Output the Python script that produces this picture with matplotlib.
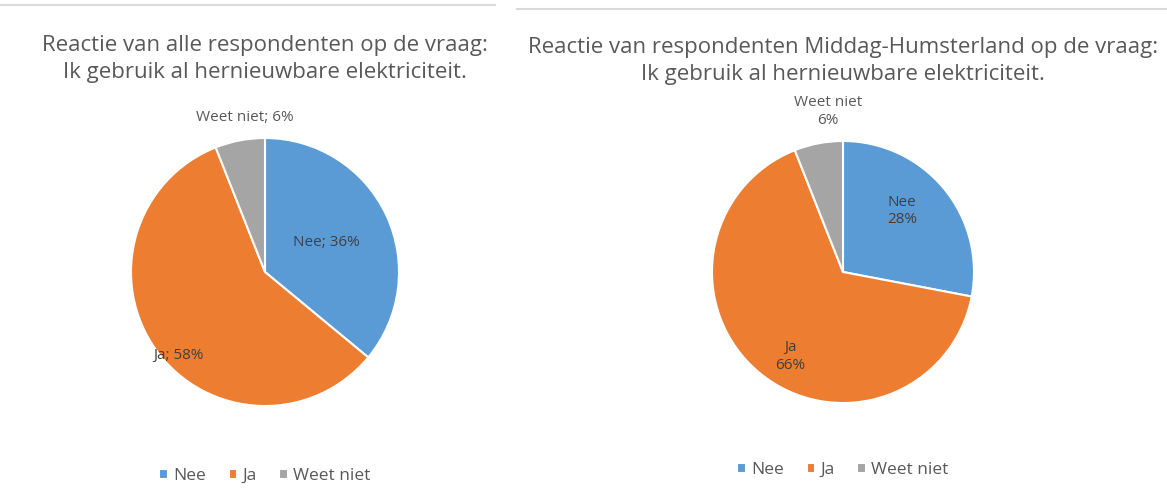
import numpy as np
import matplotlib
matplotlib.use("Agg")
import matplotlib.pyplot as plt
from matplotlib.lines import Line2D

plt.rcParams['font.family'] = ['Open Sans', 'DejaVu Sans']

categories = ["Nee", "Ja", "Weet niet"]
alle_values = [36, 58, 6]
middag_values = [28, 66, 6]
title_alle = "Reactie van alle respondenten op de vraag:\nIk gebruik al hernieuwbare elektriciteit."
title_middag = "Reactie van respondenten Middag-Humsterland op de vraag:\nIk gebruik al hernieuwbare elektriciteit."

colors = ["#5B9BD5", "#ED7D31", "#A5A5A5"]
W, H = 1167, 503


def draw_panel(rect, values, title, title_y, lab_dist, lab_shift, sep, legend_y, cx):
    ax = fig.add_axes(rect)
    wedges, _ = ax.pie(values, colors=colors, startangle=90, counterclock=False,
                       wedgeprops=dict(edgecolor='white', linewidth=1.5))
    ax.set_xlim(-1.0, 1.0)
    ax.set_ylim(-1.0, 1.0)
    ax.set_aspect('equal')
    total = sum(values)
    start = 90
    for i, (cat, v) in enumerate(zip(categories, values)):
        mid = np.radians(start - 360 * (v / total) / 2 + lab_shift[i])
        start -= 360 * v / total
        r = lab_dist[i]
        x, y = r * np.cos(mid), r * np.sin(mid)
        col = '#595959' if r > 1 else '#404040'
        ax.text(x, y, f"{cat}{sep}{v}%", ha='center', va='center', fontsize=11, color=col)
    fig.text(cx / W, title_y, title, ha='center', va='center', fontsize=16,
             color='#595959', linespacing=1.35)
    fig.legend(wedges, categories, loc='center', bbox_to_anchor=(cx / W, legend_y),
               ncol=3, frameon=False, fontsize=12.5, handlelength=0.5, handleheight=0.5,
               handletextpad=0.3, columnspacing=1.3, labelcolor='#595959')


fig = plt.figure(figsize=(W / 100, H / 100), dpi=100)

# linker paneel: middelpunt (265, 272), straal ~134 px
R1 = 134
draw_panel([(265 - R1) / W, 1 - (272 + R1) / H, 2 * R1 / W, 2 * R1 / H],
           alle_values, title_alle, 1 - 59 / H, [0.51, 0.9, 1.16], [0, 8, -3.4],
           "; ", 1 - 476 / H, 265)

# rechter paneel: middelpunt (843, 272), straal ~131 px
R2 = 131
draw_panel([(843 - R2) / W, 1 - (272 + R2) / H, 2 * R2 / W, 2 * R2 / H],
           middag_values, title_middag, 1 - 61 / H, [0.65, 0.76, 1.23], [6.4, 7.6, -5.5],
           "\n", 1 - 470 / H, 843)

# grijze kaderlijnen bovenaan
fig.add_artist(Line2D([0, 495 / W], [1 - 5 / H, 1 - 5 / H], color='#D9D9D9', lw=1.5))
fig.add_artist(Line2D([517 / W, 1], [1 - 9 / H, 1 - 9 / H], color='#D9D9D9', lw=1.5))

fig.savefig("out.png", dpi=100)
